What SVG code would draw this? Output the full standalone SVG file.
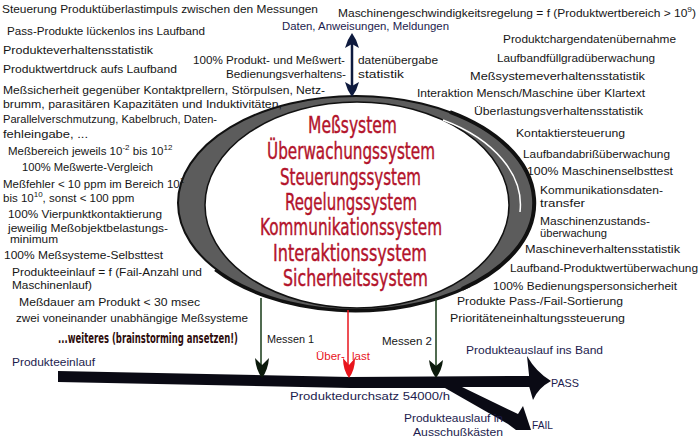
<svg xmlns="http://www.w3.org/2000/svg" width="700" height="441" viewBox="0 0 700 441">
<style>
  .t { font-family: "Liberation Sans", "DejaVu Sans", sans-serif; font-size: 11.5px; fill: #161616; }
  .n { fill: #1c1c4e; }
  .sup { font-size: 8px; }
  .red { font-family: "Liberation Sans Narrow", "DejaVu Sans Condensed", "Liberation Sans", sans-serif; font-size: 23px; fill: #b3132b; stroke: #b3132b; stroke-width: 0.4px; }
  .brain { font-family: "Liberation Sans Narrow", "DejaVu Sans Condensed", "Liberation Sans", sans-serif; font-size: 10px; font-weight: bold; fill: #2e0d0d; }
  .ml { stroke: #163a16; stroke-width: 1.5; fill: none; }
  .mh { fill: #0c1a0c; }
</style>
<rect width="700" height="441" fill="#ffffff"/>

<g id="ring">
  <ellipse cx="356" cy="203" rx="178" ry="107" fill="#5c5c5c" stroke="#111" stroke-width="2"/>
  <path d="M450,112 A178,107 0 0 1 462,289" fill="none" stroke="#111" stroke-width="4"/>
  <path d="M215,270 A178,107 0 0 0 470,286" fill="none" stroke="#111" stroke-width="2.5"/>
  <ellipse cx="357" cy="205" rx="152" ry="103" fill="#ffffff" stroke="#111" stroke-width="1.5"/>
  <path d="M443,120 A164,100 0 0 1 520,212" fill="none" stroke="#ffffff" stroke-width="1.5"/>
</g>

<g id="systems">
  <text class="red" x="308" y="133" textLength="89" lengthAdjust="spacingAndGlyphs">Meßsystem</text>
  <text class="red" x="267" y="159" textLength="168" lengthAdjust="spacingAndGlyphs">Überwachungssystem</text>
  <text class="red" x="280" y="185" textLength="141" lengthAdjust="spacingAndGlyphs">Steuerungssystem</text>
  <text class="red" x="285" y="210" textLength="132" lengthAdjust="spacingAndGlyphs">Regelungssystem</text>
  <text class="red" x="260" y="235" textLength="182" lengthAdjust="spacingAndGlyphs">Kommunikationssystem</text>
  <text class="red" x="273" y="261" textLength="154" lengthAdjust="spacingAndGlyphs">Interaktionssystem</text>
  <text class="red" x="283" y="286" textLength="145" lengthAdjust="spacingAndGlyphs">Sicherheitssystem</text>
</g>

<g id="left-notes">
  <text class="t" x="2" y="13" textLength="316" lengthAdjust="spacingAndGlyphs">Steuerung Produktüberlastimpuls zwischen den Messungen</text>
  <text class="t" x="7" y="35" textLength="198" lengthAdjust="spacingAndGlyphs">Pass-Produkte lückenlos ins Laufband</text>
  <text class="t" x="3" y="54" textLength="150" lengthAdjust="spacingAndGlyphs">Produkteverhaltensstatistik</text>
  <text class="t" x="3" y="73" textLength="174" lengthAdjust="spacingAndGlyphs">Produktwertdruck aufs Laufband</text>
  <text class="t" x="3" y="94" textLength="322" lengthAdjust="spacingAndGlyphs">Meßsicherheit gegenüber Kontaktprellern, Störpulsen, Netz-</text>
  <text class="t" x="3" y="108" textLength="279" lengthAdjust="spacingAndGlyphs">brumm, parasitären Kapazitäten und Induktivitäten,</text>
  <text class="t" x="3" y="123" textLength="214" lengthAdjust="spacingAndGlyphs">Parallelverschmutzung, Kabelbruch, Daten-</text>
  <text class="t" x="3" y="138" textLength="85" lengthAdjust="spacingAndGlyphs">fehleingabe, ...</text>
  <text class="t" x="8" y="155">Meßbereich jeweils 10<tspan class="sup" dy="-5">-2</tspan><tspan dy="5"> bis 10</tspan><tspan class="sup" dy="-5">12</tspan></text>
  <text class="t" x="22" y="171" textLength="131" lengthAdjust="spacingAndGlyphs">100% Meßwerte-Vergleich</text>
  <text class="t" x="3" y="188">Meßfehler &lt; 10 ppm im Bereich 10<tspan class="sup" dy="-5">1</tspan></text>
  <text class="t" x="3" y="202">bis 10<tspan class="sup" dy="-5">10</tspan><tspan dy="5">, sonst &lt; 100 ppm</tspan></text>
  <text class="t" x="8" y="218" textLength="154" lengthAdjust="spacingAndGlyphs">100% Vierpunktkontaktierung</text>
  <text class="t" x="8" y="232" textLength="160" lengthAdjust="spacingAndGlyphs">jeweilig Meßobjektbelastungs-</text>
  <text class="t" x="10" y="243" textLength="48" lengthAdjust="spacingAndGlyphs">minimum</text>
  <text class="t" x="4" y="259" textLength="159" lengthAdjust="spacingAndGlyphs">100% Meßsysteme-Selbsttest</text>
  <text class="t" x="12" y="276" textLength="190" lengthAdjust="spacingAndGlyphs">Produkteeinlauf = f (Fail-Anzahl und</text>
  <text class="t" x="12" y="289" textLength="80" lengthAdjust="spacingAndGlyphs">Maschinenlauf)</text>
  <text class="t" x="19" y="306" textLength="181" lengthAdjust="spacingAndGlyphs">Meßdauer am Produkt &lt; 30 msec</text>
  <text class="t" x="16" y="322" textLength="232" lengthAdjust="spacingAndGlyphs">zwei voneinander unabhängige Meßsysteme</text>
  <text class="brain" transform="translate(58,343) scale(1,1.4)" x="0" y="0" textLength="180" lengthAdjust="spacingAndGlyphs">...weiteres (brainstorming ansetzen!)</text>
</g>

<g id="data-notes">
  <text class="t" x="193" y="64" textLength="152" lengthAdjust="spacingAndGlyphs">100% Produkt- und Meßwert-</text>
  <text class="t" x="358" y="64" textLength="80" lengthAdjust="spacingAndGlyphs">datenübergabe</text>
  <text class="t" x="226" y="78" textLength="120" lengthAdjust="spacingAndGlyphs">Bedienungsverhaltens-</text>
  <text class="t" x="358" y="78" textLength="46" lengthAdjust="spacingAndGlyphs">statistik</text>
  <text class="t n" x="282" y="30" textLength="167" lengthAdjust="spacingAndGlyphs">Daten, Anweisungen, Meldungen</text>
  <text class="t" x="338" y="17" textLength="358" lengthAdjust="spacingAndGlyphs">Maschinengeschwindigkeitsregelung = f (Produktwertbereich &gt; 10<tspan class="sup" dy="-5">9</tspan><tspan dy="5">)</tspan></text>
</g>

<g id="right-notes">
  <text class="t" x="503" y="43" textLength="173" lengthAdjust="spacingAndGlyphs">Produktchargendatenübernahme</text>
  <text class="t" x="497" y="62" textLength="158" lengthAdjust="spacingAndGlyphs">Laufbandfüllgradüberwachung</text>
  <text class="t" x="470" y="80" textLength="175" lengthAdjust="spacingAndGlyphs">Meßsystemeverhaltensstatistik</text>
  <text class="t" x="417" y="97" textLength="228" lengthAdjust="spacingAndGlyphs">Interaktion Mensch/Maschine über Klartext</text>
  <text class="t" x="474" y="115" textLength="169" lengthAdjust="spacingAndGlyphs">Überlastungsverhaltensstatistik</text>
  <text class="t" x="516" y="137" textLength="109" lengthAdjust="spacingAndGlyphs">Kontaktiersteuerung</text>
  <text class="t" x="523" y="158" textLength="147" lengthAdjust="spacingAndGlyphs">Laufbandabrißüberwachung</text>
  <text class="t" x="527" y="175" textLength="146" lengthAdjust="spacingAndGlyphs">100% Maschinenselbsttest</text>
  <text class="t" x="540" y="194" textLength="123" lengthAdjust="spacingAndGlyphs">Kommunikationsdaten-</text>
  <text class="t" x="540" y="207" textLength="45" lengthAdjust="spacingAndGlyphs">transfer</text>
  <text class="t" x="540" y="225" textLength="110" lengthAdjust="spacingAndGlyphs">Maschinenzustands-</text>
  <text class="t" x="540" y="237" textLength="67" lengthAdjust="spacingAndGlyphs">überwachung</text>
  <text class="t" x="525" y="253" textLength="155" lengthAdjust="spacingAndGlyphs">Maschineverhaltensstatistik</text>
  <text class="t" x="510" y="272" textLength="188" lengthAdjust="spacingAndGlyphs">Laufband-Produktwertüberwachung</text>
  <text class="t" x="493" y="290" textLength="184" lengthAdjust="spacingAndGlyphs">100% Bedienungspersonsicherheit</text>
  <text class="t" x="457" y="305" textLength="166" lengthAdjust="spacingAndGlyphs">Produkte Pass-/Fail-Sortierung</text>
  <text class="t" x="450" y="322" textLength="175" lengthAdjust="spacingAndGlyphs">Prioritäteneinhaltungssteuerung</text>
</g>

<g id="conveyor">
  <path d="M58,371 L350,377 L530,376 L530,387 L462,387 L518,414 L523,406 L531,430 L516,430 L508,424 L445,388 L350,388 L58,382 Z" fill="#0a0a14"/>
  <path d="M527,356 Q536,372 551,381 Q538,388 533,400 L529,386 L529,375 Z" fill="#0a0a14"/>
  <text class="t n" x="12" y="366" textLength="83" lengthAdjust="spacingAndGlyphs">Produkteeinlauf</text>
  <text class="t n" x="466" y="354" textLength="137" lengthAdjust="spacingAndGlyphs">Produkteauslauf ins Band</text>
  <text class="t n" x="551" y="387" textLength="28" lengthAdjust="spacingAndGlyphs">PASS</text>
  <text class="t n" x="290" y="400" textLength="160" lengthAdjust="spacingAndGlyphs">Produktedurchsatz 54000/h</text>
  <text class="t n" x="404" y="422" textLength="99" lengthAdjust="spacingAndGlyphs">Produkteauslauf in</text>
  <text class="t n" x="413" y="436" textLength="90" lengthAdjust="spacingAndGlyphs">Ausschußkästen</text>
  <text class="t n" x="532" y="429" textLength="21" lengthAdjust="spacingAndGlyphs">FAIL</text>
</g>

<g id="connectors">
  <line x1="352" y1="42" x2="352" y2="88" stroke="#0e1a3e" stroke-width="2.5"/>
  <path d="M352,33 Q347,40 345,48 L352,44 L359,48 Q357,40 352,33 Z" fill="#0e1a3e"/>
  <path d="M352,97 Q347,90 345,82 L352,86 L359,82 Q357,90 352,97 Z" fill="#0e1a3e"/>
  <line class="ml" x1="261" y1="298" x2="261" y2="368"/>
  <path class="mh" d="M262,378 Q256,370 255,358 L262,365 L269,358 Q268,370 262,378 Z"/>
  <text class="t" x="267" y="343" textLength="47" lengthAdjust="spacingAndGlyphs">Messen 1</text>
  <line x1="348" y1="310" x2="348" y2="368" stroke="#e8141c" stroke-width="1.5"/>
  <path d="M349,378 Q343,370 343,358 L349,365 L355,358 Q355,370 349,378 Z" fill="#e8141c"/>
  <text class="t" x="316" y="360" style="fill:#e8141c">Über-</text>
  <text class="t" x="352" y="360" style="fill:#e8141c">last</text>
  <line class="ml" x1="436" y1="299" x2="436" y2="368"/>
  <path class="mh" d="M436,378 Q430,370 429,360 L436,366 L443,360 Q442,370 436,378 Z"/>
  <text class="t" x="382" y="345" textLength="50" lengthAdjust="spacingAndGlyphs">Messen 2</text>
</g>
</svg>
